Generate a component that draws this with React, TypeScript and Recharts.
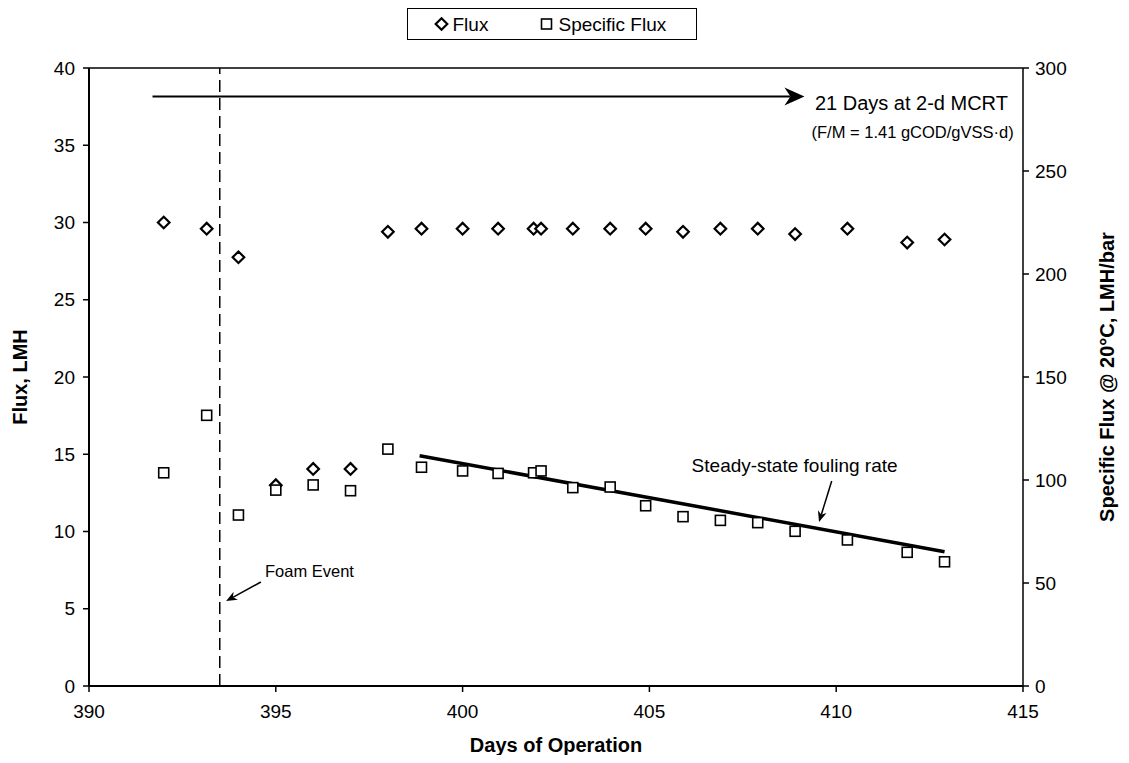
import React from "react";
import {
  ScatterChart,
  Scatter,
  XAxis,
  YAxis,
  ReferenceLine,
  ReferenceDot,
} from "recharts";

// days of operation for each sample
const days = [
  392, 393.15, 394, 395, 396, 397, 398, 398.9, 400, 400.95, 401.9, 402.1,
  402.95, 403.95, 404.9, 405.9, 406.9, 407.9, 408.9, 410.3, 411.9, 412.9,
];
// Flux, LMH (left axis)
const fluxValues = [
  30.0, 29.6, 27.75, 13.0, 14.05, 14.05, 29.4, 29.6, 29.6, 29.6, 29.6, 29.6,
  29.6, 29.6, 29.6, 29.4, 29.6, 29.6, 29.25, 29.6, 28.7, 28.9,
];
// Specific flux @ 20C, LMH/bar (right axis)
const specificFluxValues = [
  103.5, 131.4, 83.0, 95.1, 97.6, 94.8, 115.0, 106.2, 104.4, 103.2, 103.5,
  104.4, 96.3, 96.6, 87.5, 82.2, 80.4, 79.3, 75.1, 70.9, 64.9, 60.3,
];
// steady-state fouling trend (right axis)
const trendDays = [398.85, 412.9];
const trendValues = [111.8, 65.2];

const xTicks = [390, 395, 400, 405, 410, 415];
const leftTicks = [0, 5, 10, 15, 20, 25, 30, 35, 40];
const rightTicks = [0, 50, 100, 150, 200, 250, 300];

const foamEventDay = 393.5;

const fluxData = days.map((d, i) => ({ day: d, v: fluxValues[i] }));
const specData = days.map((d, i) => ({ day: d, v: specificFluxValues[i] }));
const trendData = trendDays.map((d, i) => ({ day: d, v: trendValues[i] }));

const FONT = "'Liberation Sans', Arial, sans-serif";

const Diamond = (props: any) => {
  const { cx, cy } = props;
  const r = 5.8;
  return (
    <path
      d={`M${cx},${cy - r}L${cx + r},${cy}L${cx},${cy + r}L${cx - r},${cy}Z`}
      fill="#fff"
      stroke="#000"
      strokeWidth={2.2}
    />
  );
};

const Square = (props: any) => {
  const { cx, cy } = props;
  return (
    <rect x={cx - 5} y={cy - 5} width={10} height={10} fill="#fff" stroke="#000" strokeWidth={1.6} />
  );
};

const makeArrow = (headLen: number, headHalf: number, width: number) => (props: any) => {
  const { x1, y1, x2, y2 } = props;
  const ang = Math.atan2(y2 - y1, x2 - x1);
  const c = Math.cos(ang);
  const s = Math.sin(ang);
  const bx = x2 - headLen * c;
  const by = y2 - headLen * s;
  const nx = x2 - headLen * 0.7 * c;
  const ny = y2 - headLen * 0.7 * s;
  const p1 = `${bx - headHalf * s},${by + headHalf * c}`;
  const p2 = `${bx + headHalf * s},${by - headHalf * c}`;
  return (
    <g>
      <line x1={x1} y1={y1} x2={nx} y2={ny} stroke="#000" strokeWidth={width} />
      <polygon points={`${x2},${y2} ${p1} ${nx},${ny} ${p2}`} fill="#000" />
    </g>
  );
};

const textAt = (label: string, size: number) => (props: any) => (
  <text
    x={props.cx}
    y={props.cy}
    fontSize={size}
    fontFamily={FONT}
    fill="#000"
    dominantBaseline="central"
  >
    {label}
  </text>
);

export default function App() {
  const tick = { fill: "#000", fontSize: 19, fontFamily: FONT };
  return (
    <div style={{ position: "relative", width: 1113, height: 747 }}>
      <ScatterChart
        width={1113}
        height={747}
        margin={{ top: 60, right: 38, bottom: 39, left: 21 }}
      >
        <XAxis
          type="number"
          dataKey="day"
          domain={[390, 415]}
          ticks={xTicks}
          tick={tick}
          tickSize={6}
          tickMargin={13}
          height={30}
          axisLine={{ stroke: "#000", strokeWidth: 2 }}
          tickLine={{ stroke: "#000", strokeWidth: 1.5 }}
        />
        <YAxis
          yAxisId="left"
          type="number"
          dataKey="v"
          domain={[0, 40]}
          ticks={leftTicks}
          tick={tick}
          tickSize={6}
          tickMargin={8}
          width={60}
          axisLine={{ stroke: "#000", strokeWidth: 2 }}
          tickLine={{ stroke: "#000", strokeWidth: 1.5 }}
        />
        <YAxis
          yAxisId="right"
          orientation="right"
          type="number"
          dataKey="v"
          domain={[0, 300]}
          ticks={rightTicks}
          tick={tick}
          tickSize={6}
          tickMargin={6}
          width={60}
          axisLine={{ stroke: "#000", strokeWidth: 1.5 }}
          tickLine={{ stroke: "#000", strokeWidth: 1.5 }}
        />
        {/* top border of plot area */}
        <ReferenceLine yAxisId="left" y={40} stroke="#000" strokeWidth={1.5} />
        {/* foam event */}
        <ReferenceLine
          yAxisId="left"
          x={foamEventDay}
          stroke="#000"
          strokeWidth={1.5}
          strokeDasharray="12 6"
        />
        <Scatter
          yAxisId="right"
          data={trendData}
          line={{ stroke: "#000", strokeWidth: 3.5 }}
          shape={() => null}
          isAnimationActive={false}
        />
        <Scatter yAxisId="left" data={fluxData} shape={Diamond} isAnimationActive={false} />
        <Scatter yAxisId="right" data={specData} shape={Square} isAnimationActive={false} />

        {/* annotations */}
        <ReferenceLine
          yAxisId="left"
          segment={[
            { x: 391.7, y: 38.15 },
            { x: 409.15, y: 38.15 },
          ]}
          shape={makeArrow(20, 9, 2)}
        />
        <ReferenceDot yAxisId="left" x={409.43} y={37.75} shape={textAt("21 Days at 2-d MCRT", 20)} />
        <ReferenceDot
          yAxisId="left"
          x={409.34}
          y={35.88}
          shape={textAt("(F/M = 1.41 gCOD/gVSS·d)", 16.5)}
        />
        <ReferenceLine
          yAxisId="left"
          segment={[
            { x: 409.88, y: 13.27 },
            { x: 409.54, y: 10.61 },
          ]}
          shape={makeArrow(11, 4.5, 1.5)}
        />
        <ReferenceDot yAxisId="left" x={406.13} y={14.3} shape={textAt("Steady-state fouling rate", 19)} />
        <ReferenceLine
          yAxisId="left"
          segment={[
            { x: 394.6, y: 6.73 },
            { x: 393.67, y: 5.5 },
          ]}
          shape={makeArrow(11, 4.5, 1.5)}
        />
        <ReferenceDot yAxisId="left" x={394.71} y={7.46} shape={textAt("Foam Event", 16.5)} />
      </ScatterChart>

      {/* legend */}
      <div
        style={{
          position: "absolute",
          left: 399,
          top: 0,
          width: 288,
          height: 30,
          border: "1px solid #000",
          background: "#fff",
          boxSizing: "content-box",
        }}
      >
        <svg width={288} height={30} style={{ display: "block" }}>
          <g fontFamily={FONT} fill="#000">
            <Diamond cx={33.5} cy={15} />
            <text x={44.5} y={15} fontSize={19} dominantBaseline="central">Flux</text>
            <Square cx={138.5} cy={15} />
            <text x={150.5} y={15} fontSize={19} dominantBaseline="central">Specific Flux</text>
          </g>
        </svg>
      </div>

      <svg
        width={1129}
        height={763}
        style={{ position: "absolute", left: -8, top: -8, pointerEvents: "none" }}
      >
        <g fontFamily={FONT} fill="#000">
          {/* axis titles */}
          <text x={556} y={745} fontSize={20} fontWeight="bold" textAnchor="middle" dominantBaseline="central">
            Days of Operation
          </text>
          <text
            x={20}
            y={377}
            fontSize={20}
            fontWeight="bold"
            textAnchor="middle"
            dominantBaseline="central"
            transform="rotate(-90 20 377)"
          >
            Flux, LMH
          </text>
          <text
            x={1107}
            y={377}
            fontSize={20}
            fontWeight="bold"
            textAnchor="middle"
            dominantBaseline="central"
            transform="rotate(-90 1107 377)"
          >
            Specific Flux @ 20°C, LMH/bar
          </text>
        </g>
      </svg>
    </div>
  );
}
